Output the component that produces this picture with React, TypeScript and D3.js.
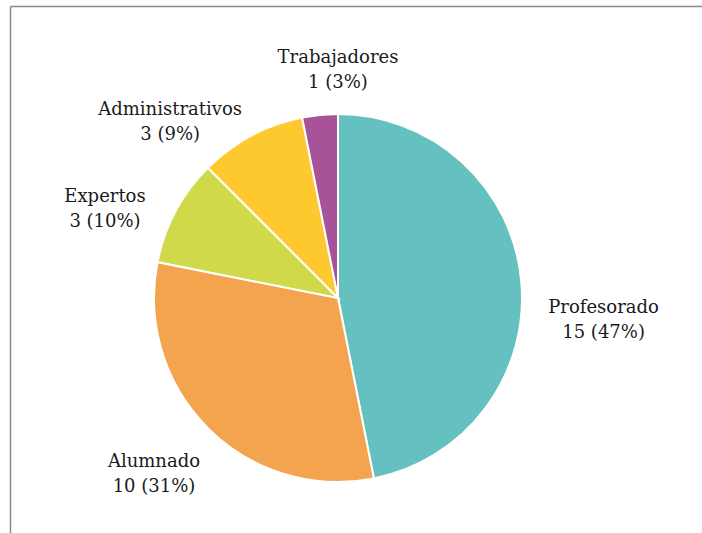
import React from "react";
import * as d3 from "d3";

const categories = ["Profesorado", "Alumnado", "Expertos", "Administrativos", "Trabajadores"];
const values = [15, 10, 3, 3, 1];
const percentLabels = ["47%", "31%", "10%", "9%", "3%"];
const colors = ["#65C1BF", "#F4A44F", "#CFD94A", "#FDC92E", "#A8529A"];

// label placement (polar, relative to pie centre): angle in degrees clockwise from top, distance
const labelPolar = [
  { angle: 93.2, dist: 266 },
  { angle: 227.4, dist: 250 },
  { angle: 292.4, dist: 252 },
  { angle: 317.4, dist: 248 },
  { angle: 0, dist: 235 },
];

const W = 702;
const H = 533;
const cx = 338;
const cy = 298;
const R = 184;
const FONT = "'DejaVu Serif', serif";

export default function App() {
  const pie = d3.pie<number>().sort(null).value((d) => d);
  const arcs = pie(values);
  const arc = d3.arc<d3.PieArcDatum<number>>().innerRadius(0).outerRadius(R);
  return (
    <svg width={W} height={H} style={{ position: "absolute", left: 0, top: 0, background: "#fff" }}>
      <rect x={0} y={0} width={W} height={H} fill="#fff" />
      <line x1={10.5} y1={6.5} x2={W} y2={6.5} stroke="#8a8a8a" strokeWidth={1.5} />
      <line x1={10.5} y1={6.5} x2={10.5} y2={H} stroke="#8a8a8a" strokeWidth={1.5} />
      <g transform={`translate(${cx},${cy})`}>
        {arcs.map((a, i) => (
          <path key={i} d={arc(a) || ""} fill={colors[i]} stroke="#fff" strokeWidth={2} />
        ))}
      </g>
      {arcs.map((a, i) => {
        const p = labelPolar[i];
        const t = (p.angle * Math.PI) / 180;
        const x = cx + p.dist * Math.sin(t);
        const y = cy - p.dist * Math.cos(t);
        return (
          <text key={i} x={x} y={y} textAnchor="middle" fontFamily={FONT} fontSize={18} fill="#1a1a1a">
            <tspan x={x} y={y}>{categories[i]}</tspan>
            <tspan x={x} y={y + 25}>{`${values[i]} (${percentLabels[i]})`}</tspan>
          </text>
        );
      })}
    </svg>
  );
}
